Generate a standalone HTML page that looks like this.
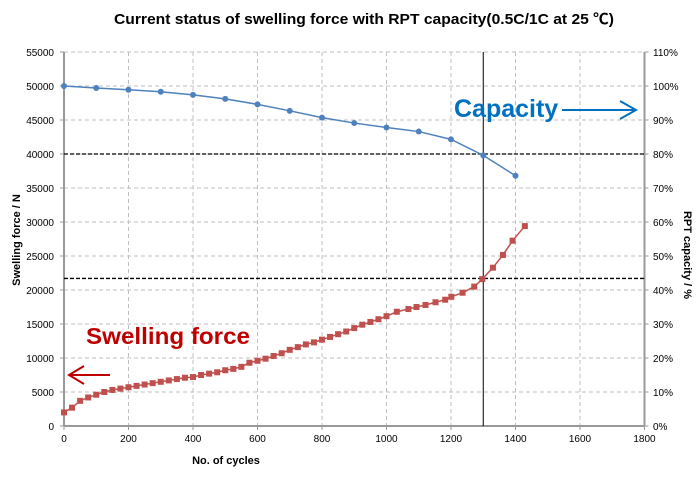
<!DOCTYPE html>
<html><head><meta charset="utf-8"><style>html,body{margin:0;padding:0;background:#fff}svg{display:block}</style></head>
<body>
<svg width="696" height="486" xmlns="http://www.w3.org/2000/svg" font-family="Liberation Sans, sans-serif">
<rect width="696" height="486" fill="#fff"/>
<text x="364" y="24" font-size="15" font-weight="bold" text-anchor="middle" textLength="500" lengthAdjust="spacingAndGlyphs" font-family="Liberation Sans, 'Noto Sans CJK JP', sans-serif">Current status of swelling force with RPT capacity(0.5C/1C at 25 ℃)</text>
<g id="grid" stroke="#bfbfbf" stroke-width="1" stroke-dasharray="4,3"></g>
<g id="axes"></g>
<g id="lines"></g>
<text x="454" y="117" font-size="25" font-weight="bold" fill="#0070c0">Capacity</text>
<line x1="562" y1="110" x2="636" y2="110" stroke="#0070c0" stroke-width="2"/>
<polyline points="620,101 636,110 620,119" fill="none" stroke="#0070c0" stroke-width="2"/>
<text x="86" y="344" font-size="23" font-weight="bold" fill="#c00000" textLength="164" lengthAdjust="spacingAndGlyphs">Swelling force</text>
<line x1="69" y1="375" x2="110" y2="375" stroke="#c00000" stroke-width="2"/>
<polyline points="84,366 69,375 84,384" fill="none" stroke="#c00000" stroke-width="2"/>
<text x="226" y="464" font-size="11" font-weight="bold" text-anchor="middle">No. of cycles</text>
<text transform="translate(20,240) rotate(-90)" font-size="11" font-weight="bold" text-anchor="middle">Swelling force / N</text>
<text transform="translate(684,255) rotate(90)" font-size="11" font-weight="bold" text-anchor="middle">RPT capacity / %</text>
</svg>
<script>
const NS="http://www.w3.org/2000/svg";
const X=c=>64+c*0.3225, Y=v=>426-v*0.0068;
function el(p,t,a,txt){const e=document.createElementNS(NS,t);for(const k in a)e.setAttribute(k,a[k]);if(txt!==undefined)e.textContent=txt;document.getElementById(p).appendChild(e);return e;}
for(let c=200;c<=1800;c+=200){el('grid','line',{x1:X(c),y1:Y(55000),x2:X(c),y2:Y(0)});}
for(let v=5000;v<=55000;v+=5000){el('grid','line',{x1:X(0),y1:Y(v),x2:X(1800),y2:Y(v)});}
el('axes','line',{x1:X(0),y1:Y(0),x2:X(0),y2:Y(55000),stroke:'#999','stroke-width':2});
el('axes','line',{x1:X(1800),y1:Y(0),x2:X(1800),y2:Y(55000),stroke:'#999','stroke-width':2});
el('axes','line',{x1:X(0),y1:Y(0),x2:X(1800),y2:Y(0),stroke:'#999','stroke-width':2});
for(let v=0;v<=55000;v+=5000){el('axes','text',{x:54,y:Y(v)+4,'font-size':10,'text-anchor':'end'},String(v));
 el('axes','line',{x1:X(0)-4,y1:Y(v),x2:X(0),y2:Y(v),stroke:'#999'});
 el('axes','line',{x1:X(1800),y1:Y(v),x2:X(1800)+4,y2:Y(v),stroke:'#999'});
 el('axes','text',{x:653,y:Y(v)+4,'font-size':10},(v/500)+'%');}
for(let c=0;c<=1800;c+=200){el('axes','text',{x:X(c),y:442,'font-size':10,'text-anchor':'middle'},String(c));
 el('axes','line',{x1:X(c),y1:Y(0),x2:X(c),y2:Y(0)+4,stroke:'#999'});}
el('lines','line',{x1:X(0),y1:Y(40000),x2:X(1800),y2:Y(40000),stroke:'#000','stroke-width':1.3,'stroke-dasharray':'4,2'});
el('lines','line',{x1:X(0),y1:Y(21700),x2:X(1800),y2:Y(21700),stroke:'#000','stroke-width':1.3,'stroke-dasharray':'4,2'});
el('lines','line',{x1:X(1300),y1:Y(0),x2:X(1300),y2:Y(55000),stroke:'#000','stroke-width':1});
const cap=[[0,100],[100,99.4],[200,98.9],[300,98.3],[400,97.4],[500,96.2],[600,94.6],[700,92.7],[800,90.7],[900,89.1],[1000,87.8],[1100,86.6],[1200,84.3],[1300,79.6],[1400,73.6]];
el('lines','polyline',{points:cap.map(p=>X(p[0])+','+Y(p[1]*500)).join(' '),fill:'none',stroke:'#4f81bd','stroke-width':1.5});
cap.forEach(p=>el('lines','circle',{cx:X(p[0]),cy:Y(p[1]*500),r:3,fill:'#4f81bd'}));
const sw=[[0,2000],[25,2700],[50,3700],[75,4200],[100,4600],[125,5000],[150,5300],[175,5500],[200,5700],[225,5900],[250,6100],[275,6300],[300,6500],[325,6700],[350,6900],[375,7100],[400,7200],[425,7500],[450,7700],[475,7900],[500,8200],[525,8400],[550,8700],[575,9300],[600,9600],[625,9900],[650,10300],[675,10700],[700,11200],[725,11600],[750,12000],[775,12300],[800,12700],[825,13100],[850,13500],[875,13900],[900,14400],[925,14900],[950,15300],[975,15700],[1000,16150],[1032,16800],[1068,17200],[1093,17500],[1121,17800],[1152,18200],[1182,18570],[1201,19000],[1236,19600],[1272,20500],[1297,21600],[1330,23280],[1361,25150],[1391,27250],[1429,29400]];
el('lines','polyline',{points:sw.map(p=>X(p[0])+','+Y(p[1])).join(' '),fill:'none',stroke:'#c0504d','stroke-width':1.5});
sw.forEach(p=>el('lines','rect',{x:X(p[0])-3,y:Y(p[1])-3,width:6,height:6,fill:'#c0504d'}));
</script>
</body></html>
